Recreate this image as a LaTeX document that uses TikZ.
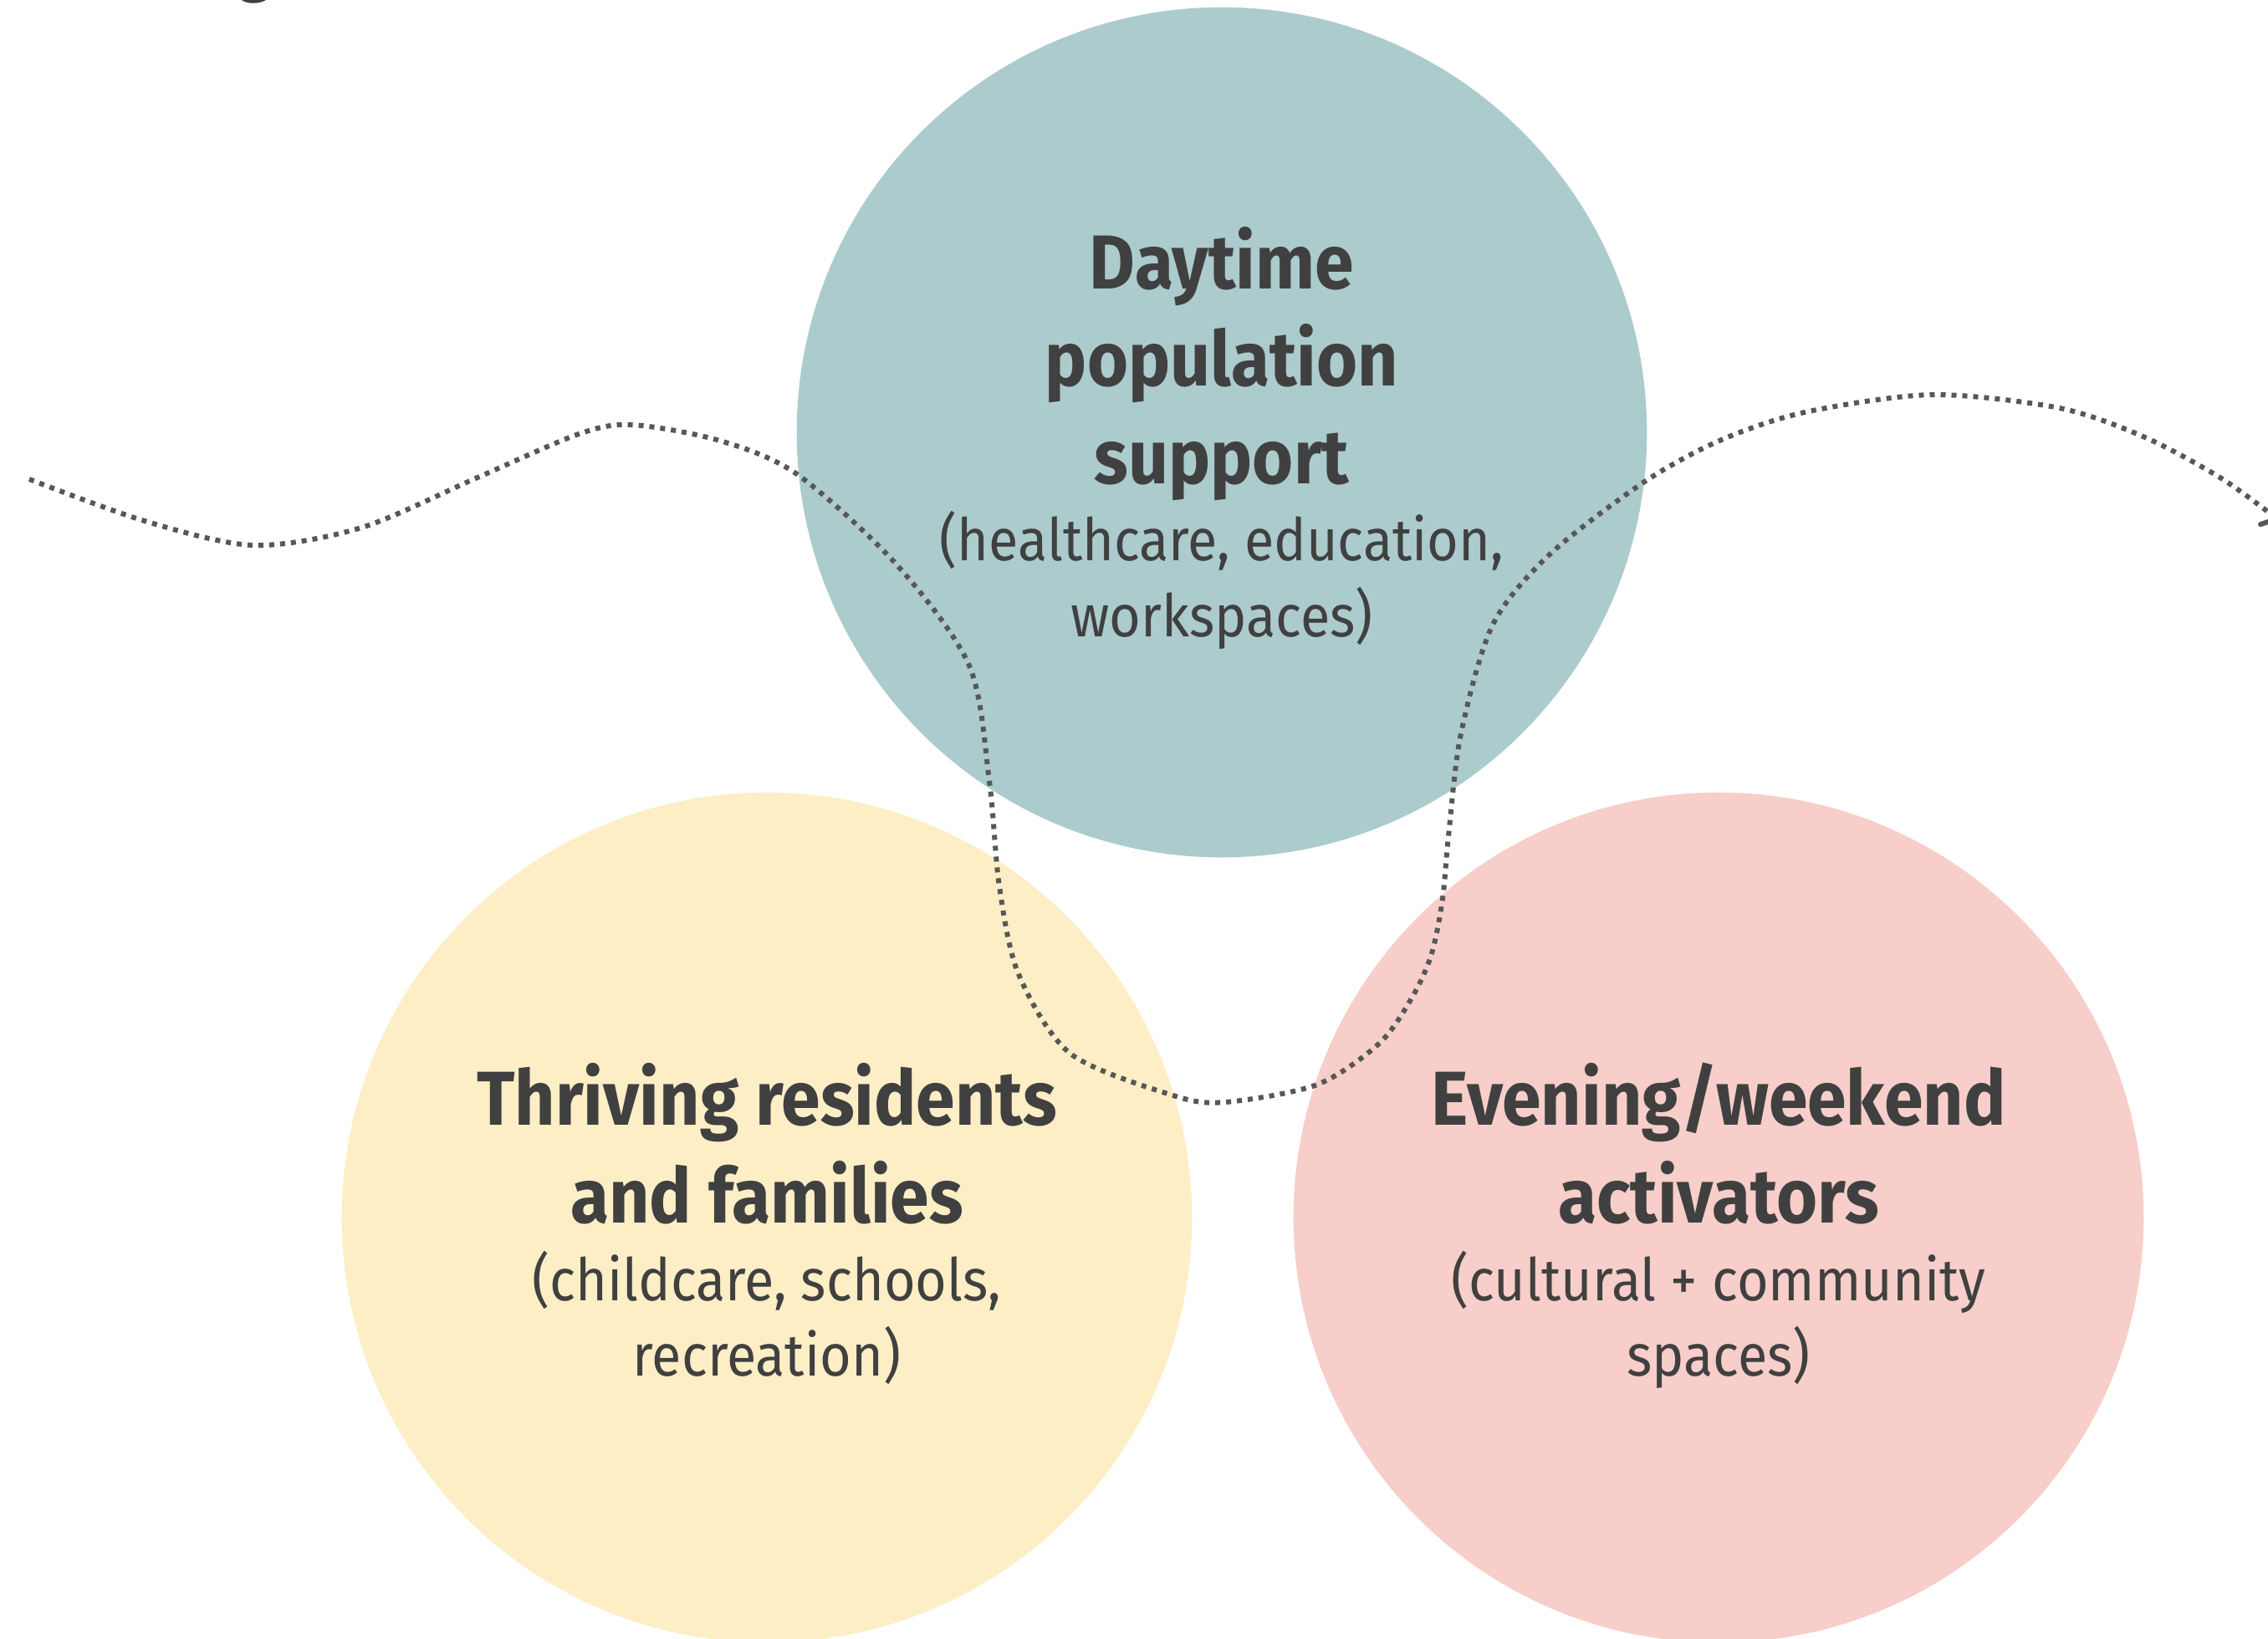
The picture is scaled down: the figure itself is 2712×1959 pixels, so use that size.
\documentclass[tikz,border=0pt]{standalone}
\usepackage{fontspec}
\setmainfont{Fira Sans}[FakeStretch=0.92]
\usetikzlibrary{positioning}

\definecolor{daycol}{HTML}{ACCBCC}
\definecolor{homecol}{HTML}{FDEEC6}
\definecolor{nightcol}{HTML}{F7CEC9}
\definecolor{inkcol}{HTML}{404040}
\definecolor{dotcol}{HTML}{575757}

\begin{document}
\begin{tikzpicture}[x=0.01cm, y=-0.01cm,
    blob/.style={circle, inner sep=0pt, minimum size=10.16cm},
    head/.style={font=\fontsize{26pt}{33pt}\selectfont\bfseries, text=inkcol, align=center, inner sep=0pt, anchor=base},
    note/.style={font=\fontsize{20pt}{25.6pt}\selectfont, text=inkcol, align=center, inner sep=0pt, anchor=base},
    trail/.style={dotcol, line width=1.7pt, dash pattern=on 1.7pt off 2pt}]

    \clip (0,0) rectangle (2712,1959);
    \fill[white] (0,0) rectangle (2712,1959);

    % the three circles
    \node[blob, fill=daycol]   (day)   at (1461,517)  {};
    \node[blob, fill=homecol]  (home)  at (917,1456)  {};
    \node[blob, fill=nightcol] (night) at (2055,1456) {};

    % winding dotted trail across the circles
    \draw[trail] plot[smooth, tension=0.5] coordinates {
        (35,573) (173,623) (303,652) (432,631) (571,571) (692,519)
        (756,508) (861,527) (953,567) (1072,675) (1159,796) (1183,934)
        (1195,1060) (1218,1165) (1280,1260) (1403,1310) (1465,1318)
        (1575,1297) (1650,1247) (1690,1190) (1712,1140) (1725,1075)
        (1732,1000) (1747,877) (1785,747) (1853,663) (1965,577)
        (2056,527) (2158,493) (2310,472) (2463,488) (2565,523)
        (2653,570) (2712,612)};

    % clipped bits at the edges
    \fill[inkcol] (289,0) .. controls (295,5) and (310,5) .. (318,0) -- cycle;
    \draw[dotcol, line width=1.7pt, line cap=round] (2703,627) -- (2712,624);

    % labels (base = last line)
    \node[head] (dayhead) at (1461,578) {Daytime\\population\\support};
    \node[note] (daynote) at (1461,761) {(healthcare, education,\\workspaces)};

    \node[head] (homehead) at (917,1462) {Thriving residents\\and families};
    \node[note] (homenote) at (917,1645) {(childcare, schools,\\recreation)};

    \node[head] (nighthead) at (2055,1462) {Evening/weekend\\activators};
    \node[note] (nightnote) at (2055,1645) {(cultural + community\\spaces)};

\end{tikzpicture}
\end{document}
